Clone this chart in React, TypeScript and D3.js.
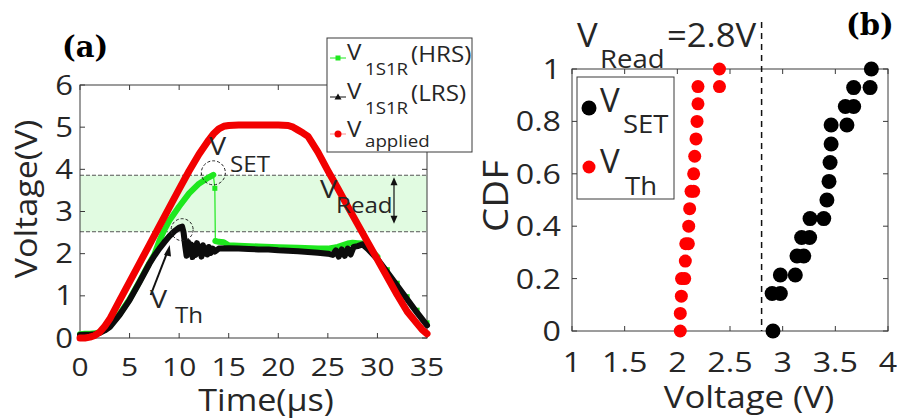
import React from 'react';
import * as d3 from 'd3';

// ---------- (a) waveform data ----------
const appliedT = [0, 0.5, 1, 1.5, 2, 2.5, 3, 4, 5, 6, 7, 8, 9, 10, 11, 12, 13, 13.5, 14, 14.5, 15, 16, 18, 20, 21, 21.5, 22, 22.5, 23, 24, 25, 26, 27, 28, 29, 30, 31, 32, 33, 34, 34.5, 35];
const appliedV = [0, 0, 0.02, 0.06, 0.14, 0.28, 0.45, 0.89, 1.33, 1.77, 2.21, 2.65, 3.09, 3.53, 3.96, 4.36, 4.7, 4.85, 4.96, 5.02, 5.04, 5.05, 5.05, 5.05, 5.04, 5.0, 4.93, 4.86, 4.78, 4.41, 3.97, 3.55, 3.12, 2.7, 2.28, 1.86, 1.44, 1.02, 0.63, 0.34, 0.2, 0.1];

const lrsT = [0, 0.5, 1, 1.5, 2, 2.5, 3, 4, 5, 6, 7, 7.5, 8, 8.5, 9, 9.5, 10, 10.3, 10.45, 10.6, 10.75, 10.9, 11.05, 11.2, 11.35, 11.5, 11.65, 11.8, 11.95, 12.1, 12.25, 12.4, 12.55, 12.7, 12.85, 13.0, 13.2, 13.4, 13.6, 14, 15, 16, 17, 18, 19, 20, 21, 22, 23, 24, 25, 25.5, 25.8, 26.1, 26.4, 26.7, 27.0, 27.3, 27.6, 28, 28.5, 29, 30, 31, 32, 33, 34, 35];
const lrsV = [0.07, 0.08, 0.08, 0.09, 0.12, 0.18, 0.26, 0.55, 0.9, 1.32, 1.76, 1.95, 2.12, 2.27, 2.41, 2.53, 2.62, 2.64, 2.5, 2.2, 1.95, 2.28, 2.0, 2.22, 1.92, 2.18, 1.97, 2.25, 2.02, 2.15, 1.93, 2.2, 2.0, 2.13, 1.98, 2.16, 2.02, 2.12, 2.05, 2.12, 2.13, 2.12, 2.11, 2.1, 2.1, 2.08, 2.07, 2.06, 2.04, 2.02, 2.0, 1.97, 2.08, 1.93, 2.1, 1.95, 2.12, 1.98, 2.16, 2.18, 2.22, 2.12, 1.87, 1.56, 1.24, 0.92, 0.6, 0.3];

const hrsT = [0, 0.5, 1, 1.5, 2, 2.5, 3, 4, 5, 6, 7, 7.5, 8, 8.5, 9, 10, 11, 12, 13, 13.45, 13.6, 13.65, 14, 14.5, 15, 16, 18, 20, 22, 24, 25, 26, 27, 27.5, 28, 28.5, 29, 30, 31, 32, 33, 34, 35];
const hrsV = [0.09, 0.1, 0.1, 0.11, 0.14, 0.2, 0.28, 0.57, 0.92, 1.34, 1.78, 1.98, 2.3, 2.56, 2.78, 3.12, 3.43, 3.66, 3.81, 3.87, 3.55, 2.3, 2.28, 2.27, 2.2, 2.19, 2.17, 2.15, 2.14, 2.12, 2.12, 2.16, 2.24, 2.26, 2.25, 2.24, 2.16, 1.93, 1.62, 1.3, 0.98, 0.66, 0.36];

const readBand = [2.52, 3.86];

// ---------- (b) CDF data ----------
const vthV = [2.028, 2.028, 2.038, 2.04, 2.07, 2.076, 2.08, 2.105, 2.108, 2.117, 2.13, 2.155, 2.155, 2.165, 2.177, 2.187, 2.196, 2.196, 2.40, 2.40];
const vthCdf = [0, 0.067, 0.133, 0.2, 0.2, 0.267, 0.333, 0.333, 0.4, 0.467, 0.533, 0.533, 0.6, 0.667, 0.733, 0.8, 0.867, 0.933, 0.933, 1];
const vsetV = [2.908, 2.90, 2.978, 2.978, 3.12, 3.136, 3.20, 3.18, 3.256, 3.26, 3.39, 3.42, 3.44, 3.45, 3.46, 3.46, 3.61, 3.595, 3.674, 3.674, 3.83, 3.842];
const vsetCdf = [0, 0.143, 0.143, 0.214, 0.214, 0.286, 0.286, 0.357, 0.357, 0.429, 0.429, 0.5, 0.571, 0.643, 0.714, 0.786, 0.786, 0.857, 0.857, 0.929, 0.929, 1];
const vRead = 2.8;

// ---------- ticks ----------
const leftXTicks = [0, 5, 10, 15, 20, 25, 30, 35];
const leftYTicks = [0, 1, 2, 3, 4, 5, 6];
const rightXTicks = [1, 1.5, 2, 2.5, 3, 3.5, 4];
const rightXLabels = ['1', '1.5', '2', '2.5', '3', '3.5', '4'];
const rightYTicks = [0, 0.2, 0.4, 0.6, 0.8, 1];
const rightYLabels = ['0', '0.2', '0.4', '0.6', '0.8', '1'];

const FONT = "'Open Sans', 'DejaVu Sans', sans-serif";
const SERIF = "'DejaVu Serif', 'Liberation Serif', serif";
const INK = '#262626';
const AX = '#3a3a3a';
const RED = '#f20000';
const GREEN = '#1ee81e';
const SX = 1.15;

type TP = { x: number; y: number; fs: number; anchor?: string; rot?: number; sx?: number; family?: string; weight?: string | number; fill?: string; children: React.ReactNode };
function Txt({ x, y, fs, anchor = 'start', rot = 0, sx = SX, family = FONT, weight = 'normal', fill = INK, children }: TP) {
  return (
    <text
      transform={`translate(${x},${y})${rot ? ` rotate(${rot})` : ''} scale(${sx},1)`}
      fontSize={fs}
      fontFamily={family}
      fontWeight={weight as any}
      textAnchor={anchor as any}
      fill={fill}
    >
      {children}
    </text>
  );
}

export default function App() {
  const xL = d3.scaleLinear().domain([0, 35]).range([80, 427]);
  const yL = d3.scaleLinear().domain([0, 6]).range([338, 85]);
  const xR = d3.scaleLinear().domain([1, 4]).range([572, 888]);
  const yR = d3.scaleLinear().domain([0, 1]).range([331, 69]);

  const pts = (T: number[], V: number[]) => T.map((t, i) => [t, V[i]] as [number, number]);
  const line = d3.line<[number, number]>().x(d => xL(d[0])).y(d => yL(d[1]));

  const applied = pts(appliedT, appliedV);
  const lrs = pts(lrsT, lrsV);
  const hrs = pts(hrsT, hrsV);

  // split HRS where the SET jump occurs
  const segs: [number, number][][] = [];
  let cur: [number, number][] = [hrs[0]];
  for (let i = 1; i < hrs.length; i++) {
    if (hrs[i - 1][1] - hrs[i][1] > 0.25) {
      segs.push(cur);
      cur = [hrs[i]];
    } else cur.push(hrs[i]);
  }
  segs.push(cur);

  const [L0, L1] = xL.range();
  const [B0, T0] = yL.range();
  const [R0, R1] = xR.range();
  const [RB, RT] = yR.range();

  const setPt = segs[0][segs[0].length - 1];
  const thPeak = lrs.reduce((a, b) => (b[0] < 11 && b[1] > a[1] ? b : a), lrs[0]);

  return (
    <svg width={897} height={420} style={{ position: 'absolute', left: 0, top: 0, background: '#fff' }}>
      <rect x={0} y={0} width={897} height={420} fill="#fff" />

      {/* ================= (a) ================= */}
      <Txt x={62} y={57} fs={29} family={SERIF} weight="bold" sx={1.0} fill="#000">(a)</Txt>

      {/* read band */}
      <rect x={L0} y={yL(readBand[1])} width={L1 - L0} height={yL(readBand[0]) - yL(readBand[1])} fill="#e1fbe1" />
      <line x1={L0} x2={L1} y1={yL(readBand[1])} y2={yL(readBand[1])} stroke="#555" strokeDasharray="4,2" strokeWidth={1} />
      <line x1={L0} x2={L1} y1={yL(readBand[0])} y2={yL(readBand[0])} stroke="#555" strokeDasharray="4,2" strokeWidth={1} />

      {/* axes box */}
      <rect x={L0} y={T0} width={L1 - L0} height={B0 - T0} fill="none" stroke={AX} strokeWidth={1} />
      {leftXTicks.map(t => (
        <g key={'lx' + t}>
          <line x1={xL(t)} x2={xL(t)} y1={B0} y2={B0 - 5} stroke={AX} />
          <line x1={xL(t)} x2={xL(t)} y1={T0} y2={T0 + 5} stroke={AX} />
          <Txt x={xL(t)} y={376} fs={26} anchor="middle">{String(t)}</Txt>
        </g>
      ))}
      {leftYTicks.map(v => (
        <g key={'ly' + v}>
          <line x1={L0} x2={L0 + 5} y1={yL(v)} y2={yL(v)} stroke={AX} />
          <line x1={L1} x2={L1 - 5} y1={yL(v)} y2={yL(v)} stroke={AX} />
          <Txt x={73} y={yL(v) + 9.5} fs={27} anchor="end">{String(v)}</Txt>
        </g>
      ))}
      <Txt x={266} y={411} fs={31} anchor="middle" sx={1.1}>Time(µs)</Txt>
      <Txt x={37} y={199} fs={31} anchor="middle" rot={-90} sx={1.1}>Voltage(V)</Txt>

      {/* curves */}
      <path d={line(hrs) || ''} fill="none" stroke={GREEN} strokeWidth={1.2} />
      {segs.map((s, i) =>
        s.length > 1 ? (
          <path key={'g' + i} d={line(s) || ''} fill="none" stroke={GREEN} strokeWidth={6} strokeLinejoin="round" strokeLinecap="round" />
        ) : (
          <rect key={'g' + i} x={xL(s[0][0]) - 2.5} y={yL(s[0][1]) - 2.5} width={5} height={5} fill={GREEN} />
        )
      )}
      <path d={line(lrs) || ''} fill="none" stroke="#0c0c0c" strokeWidth={6} strokeLinejoin="round" strokeLinecap="round" />
      <path d={line(applied) || ''} fill="none" stroke={RED} strokeWidth={7} strokeLinejoin="round" strokeLinecap="round" />

      {/* dashed circles */}
      <circle cx={xL(setPt[0])} cy={yL(setPt[1]) - 2} r={12} fill="none" stroke="#222" strokeDasharray="3,2" />
      <circle cx={xL(thPeak[0])} cy={yL(thPeak[1]) + 3} r={11} fill="none" stroke="#222" strokeDasharray="3,2" />

      {/* V_Th arrow */}
      <line x1={150.7} y1={295} x2={167} y2={253} stroke="#111" strokeWidth={2} />
      <path d="M169.7,245 L164,255 L171,256.5 Z" fill="#111" />
      <Txt x={150} y={308} fs={25}>V</Txt>
      <Txt x={175} y={323} fs={21}>Th</Txt>

      {/* V_SET */}
      <Txt x={209} y={155} fs={25}>V</Txt>
      <Txt x={230} y={172} fs={21}>SET</Txt>

      {/* V_Read double arrow */}
      <line x1={394} x2={394} y1={yL(readBand[1]) + 6} y2={yL(readBand[0]) - 12} stroke="#111" strokeWidth={1.2} />
      <path d={`M394,${yL(readBand[1]) + 2} L390.5,${yL(readBand[1]) + 10} L397.5,${yL(readBand[1]) + 10} Z`} fill="#111" />
      <path d={`M394,${yL(readBand[0]) - 8} L390.5,${yL(readBand[0]) - 16} L397.5,${yL(readBand[0]) - 16} Z`} fill="#111" />
      <Txt x={320} y={198} fs={25}>V</Txt>
      <Txt x={336} y={213} fs={21}>Read</Txt>

      {/* legend (a) */}
      <rect x={327} y={38} width={145} height={114} fill="#fff" stroke={AX} strokeWidth={1} />
      <line x1={330} x2={346} y1={58} y2={58} stroke={GREEN} strokeWidth={1} />
      <rect x={335.5} y={55.5} width={5} height={5} fill={GREEN} />
      <Txt x={347} y={60} fs={21}>V</Txt>
      <Txt x={365} y={75} fs={17} sx={1.1}>1S1R</Txt>
      <Txt x={411} y={62} fs={22} sx={1.1}>(HRS)</Txt>

      <line x1={330} x2={346} y1={97} y2={97} stroke="#111" strokeWidth={1} />
      <path d="M338,93.5 L341.5,99.5 L334.5,99.5 Z" fill="#111" />
      <Txt x={347} y={99} fs={21}>V</Txt>
      <Txt x={365} y={114} fs={17} sx={1.1}>1S1R</Txt>
      <Txt x={411} y={101} fs={22} sx={1.1}>(LRS)</Txt>

      <line x1={330} x2={346} y1={134} y2={134} stroke="#ff8a8a" strokeWidth={1} />
      <circle cx={338} cy={134} r={3.5} fill={RED} />
      <Txt x={347} y={137} fs={21}>V</Txt>
      <Txt x={365} y={147} fs={17} sx={1.1}>applied</Txt>

      {/* ================= (b) ================= */}
      <Txt x={846} y={35} fs={29} family={SERIF} weight="bold" sx={1.0} fill="#000">(b)</Txt>

      <rect x={R0} y={RT} width={R1 - R0} height={RB - RT} fill="none" stroke={AX} strokeWidth={1} />
      {rightXTicks.map((t, i) => (
        <g key={'rx' + t}>
          <line x1={xR(t)} x2={xR(t)} y1={RB} y2={RB - 5} stroke={AX} />
          <line x1={xR(t)} x2={xR(t)} y1={RT} y2={RT + 5} stroke={AX} />
          <Txt x={xR(t)} y={372} fs={28} anchor="middle">{rightXLabels[i]}</Txt>
        </g>
      ))}
      {rightYTicks.map((v, i) => (
        <g key={'ry' + v}>
          <line x1={R0} x2={R0 + 5} y1={yR(v)} y2={yR(v)} stroke={AX} />
          <line x1={R1} x2={R1 - 5} y1={yR(v)} y2={yR(v)} stroke={AX} />
          <Txt x={561} y={yR(v) + 10} fs={28} anchor="end">{rightYLabels[i]}</Txt>
        </g>
      ))}
      <Txt x={749} y={408} fs={31} anchor="middle" sx={1.12}>Voltage (V)</Txt>
      <Txt x={508} y={196} fs={35} anchor="middle" rot={-90} sx={1.1}>CDF</Txt>

      <line x1={xR(vRead)} x2={xR(vRead)} y1={22} y2={RB} stroke="#111" strokeWidth={1.5} strokeDasharray="6,5" />

      {vthV.map((v, i) => (
        <circle key={'r' + i} cx={xR(v)} cy={yR(vthCdf[i])} r={6.5} fill="#ff0000" />
      ))}
      {vsetV.map((v, i) => (
        <circle key={'k' + i} cx={xR(v)} cy={yR(vsetCdf[i])} r={7.5} fill="#000" />
      ))}

      <Txt x={577} y={47} fs={33} sx={1.05}>V</Txt>
      <Txt x={600} y={68} fs={25} sx={1.1}>Read</Txt>
      <Txt x={667} y={47} fs={33} sx={1.05}>=2.8V</Txt>

      {/* legend (b) */}
      <rect x={577} y={77} width={97} height={122} fill="#fff" stroke={AX} strokeWidth={1} />
      <circle cx={589} cy={108} r={7.5} fill="#000" />
      <Txt x={600} y={112} fs={33} sx={1.0}>V</Txt>
      <Txt x={623} y={133} fs={25} sx={1.1}>SET</Txt>
      <circle cx={589} cy={167} r={6.5} fill="#ff0000" />
      <Txt x={600} y={173} fs={33} sx={1.0}>V</Txt>
      <Txt x={625} y={195} fs={25} sx={1.1}>Th</Txt>
    </svg>
  );
}
